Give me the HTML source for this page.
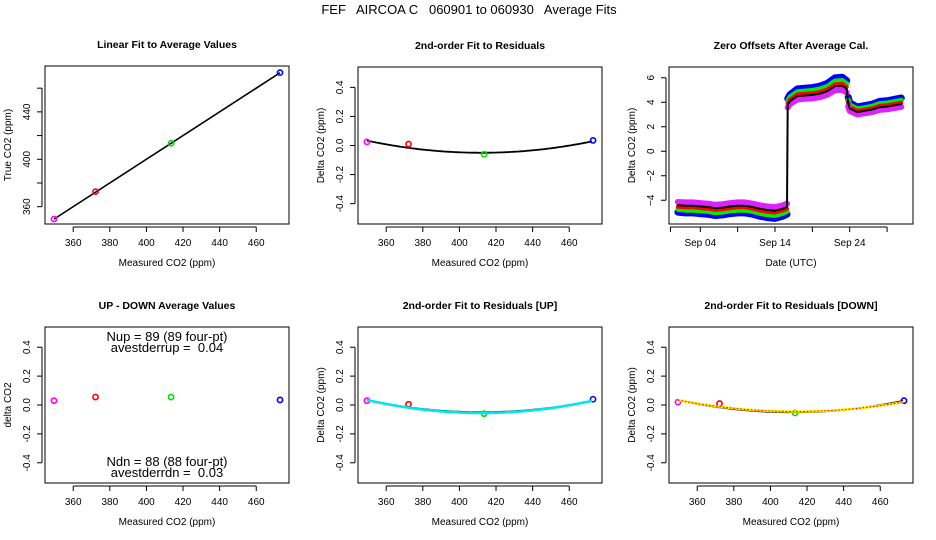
<!DOCTYPE html>
<html><head><meta charset="utf-8">
<style>
html,body{margin:0;padding:0;background:#fff;}
svg{display:block;font-family:"Liberation Sans",sans-serif;}
</style></head>
<body>
<svg id="fig" width="936" height="540" viewBox="0 0 936 540" xmlns="http://www.w3.org/2000/svg">
<rect width="936" height="540" fill="#fff"/>
<text x="469" y="14" text-anchor="middle" font-size="13" style="white-space:pre">FEF   AIRCOA C   060901 to 060930   Average Fits</text>
</svg>
<script>
// ---- data ----
const measured = [349.5, 372.2, 413.5, 473.0];
const trueVals = [349.6, 372.7, 413.5, 473.1];
const ptColors = ['#ff00ff', '#ff0000', '#00dd00', '#0000ff'];
const resid = [0.025, 0.01, -0.06, 0.035];
const residUp = [0.03, 0.005, -0.06, 0.04];
const residDn = [0.02, 0.01, -0.055, 0.03];
const updown = [0.03, 0.055, 0.055, 0.035];
const linFit = [1.0, 0.0]; // slope, intercept
const fitAll = [412, -0.05, 2.14e-5]; // vertex, min, curvature
const fitUp = [412, -0.055, 2.3e-5];
const fitDn = [414, -0.045, 1.9e-5];
const days = [1,2,3,4,5,6,7,8,9,10,11,12,13,14,15,15.6,15.7,16,17,18,19,20,21,22,23,23.6,23.8,24,25,26,27,28,29,30,30.9];
const offBlack = [-4.4,-4.45,-4.45,-4.5,-4.55,-4.65,-4.6,-4.5,-4.45,-4.45,-4.55,-4.7,-4.8,-4.85,-4.7,-4.55,3.8,4.1,4.5,4.55,4.6,4.7,4.9,5.3,5.35,5.1,3.9,3.5,3.2,3.3,3.4,3.6,3.65,3.75,3.85];
const offBlue = [-4.97,-5.03,-5.03,-5.09,-5.14,-5.25,-5.2,-5.09,-5.03,-5.03,-5.14,-5.31,-5.42,-5.48,-5.31,-5.14,4.29,4.63,5.09,5.14,5.2,5.31,5.54,5.99,6.05,5.76,4.41,3.96,3.62,3.73,3.84,4.07,4.12,4.24,4.35];
const offGreen = [-4.75,-4.81,-4.81,-4.86,-4.91,-5.02,-4.97,-4.86,-4.81,-4.81,-4.91,-5.08,-5.18,-5.24,-5.08,-4.91,4.1,4.43,4.86,4.91,4.97,5.08,5.29,5.72,5.78,5.51,4.21,3.78,3.46,3.56,3.67,3.89,3.94,4.05,4.16];
const offRed = [-4.53,-4.58,-4.58,-4.64,-4.69,-4.79,-4.74,-4.64,-4.58,-4.58,-4.69,-4.84,-4.94,-5.0,-4.84,-4.69,3.91,4.22,4.64,4.69,4.74,4.84,5.05,5.46,5.51,5.25,4.02,3.61,3.3,3.4,3.5,3.71,3.76,3.86,3.97];
const offMag = [-4.14,-4.18,-4.18,-4.23,-4.28,-4.37,-4.32,-4.23,-4.18,-4.18,-4.28,-4.42,-4.51,-4.56,-4.42,-4.28,3.57,3.85,4.23,4.28,4.32,4.42,4.61,4.98,5.03,4.79,3.67,3.29,3.01,3.1,3.2,3.38,3.43,3.53,3.62];
const co2Ticks = [360,380,400,420,440,460];
const residTicks = [-0.4,-0.2,0.0,0.2,0.4];
const residLabels = ['-0.4','-0.2','0.0','0.2','0.4'];
const trueTicks = [360,380,400,420,440,460];
const trueLabels = ['360','','400','','440',''];
const offTicks = [-4,-2,0,2,4,6];
const dateTicks = [0,4,9,14,19,24,29];
const dateLabels = ['','Sep 04','','Sep 14','','Sep 24',''];

const NS='http://www.w3.org/2000/svg';
const svg=document.getElementById('fig');
function el(tag,attrs,parent){const e=document.createElementNS(NS,tag);for(const k in attrs)e.setAttribute(k,attrs[k]);(parent||svg).appendChild(e);return e;}

function panel(name,box,xd,yd,title,xtitle,ytitle,xt,xl,yt,yl){
  const g=el('g',{});
  
  
  const sx=v=>box[0]+(v-xd[0])/(xd[1]-xd[0])*(box[2]-box[0]);
  const sy=v=>box[3]-(v-yd[0])/(yd[1]-yd[0])*(box[3]-box[1]);
  const r=el('rect',{x:box[0],y:box[1],width:box[2]-box[0],height:box[3]-box[1],fill:'none',stroke:'#000','stroke-width':1},g);
  
  
  const t=el('text',{x:(box[0]+box[2])/2,y:box[1]-18,'text-anchor':'middle','font-size':10.5,'font-weight':'bold'},g);
  t.textContent=title;
  
  
  const ax=el('g',{},g);
  
  
  const ay=el('g',{},g);
  
  
  const by=box[3]+3;
  el('line',{x1:sx(xt[0]),x2:sx(xt[xt.length-1]),y1:by,y2:by,stroke:'#000'},ax);
  xt.forEach((v,i)=>{el('line',{x1:sx(v),x2:sx(v),y1:by,y2:by+5,stroke:'#000'},ax);
    if(xl[i]){const tx=el('text',{x:sx(v),y:by+19,'text-anchor':'middle','font-size':10},ax);tx.textContent=xl[i];}});
  const xtt=el('text',{x:(box[0]+box[2])/2,y:box[3]+42,'text-anchor':'middle','font-size':10},ax);
  xtt.textContent=xtitle;
  
  
  const bx=box[0]-3;
  el('line',{x1:bx,x2:bx,y1:sy(yt[0]),y2:sy(yt[yt.length-1]),stroke:'#000'},ay);
  yt.forEach((v,i)=>{el('line',{x1:bx,x2:bx-5,y1:sy(v),y2:sy(v),stroke:'#000'},ay);
    if(yl[i]){const tx=el('text',{x:bx-12,y:sy(v),'text-anchor':'middle','font-size':10,transform:`rotate(-90 ${bx-12} ${sy(v)})`},ay);tx.textContent=yl[i];}});
  const ytx=box[0]-34;
  const ytt=el('text',{x:ytx,y:(box[1]+box[3])/2,'text-anchor':'middle','font-size':10,transform:`rotate(-90 ${ytx} ${(box[1]+box[3])/2})`},ay);
  ytt.textContent=ytitle;
  
  
  return {g,sx,sy};
}
function points(p,xs,ys,name){
  xs.forEach((x,i)=>{const c=el('circle',{cx:p.sx(x),cy:p.sy(ys[i]),r:2.6,fill:'none',stroke:ptColors[i],'stroke-width':1.6},p.g);
    
    });
}
function quadPath(p,f){
  let d='';for(let x=measured[0];x<=measured[3]+0.01;x+=1){const y=f[1]+f[2]*(x-f[0])*(x-f[0]);d+=(d?'L':'M')+p.sx(x).toFixed(1)+','+p.sy(y).toFixed(1);}
  return d;
}
const co2Labels=co2Ticks.map(String);
const xd=[344.6,477.9], rd=[-0.54,0.54];

// Panel 1
const p1=panel('linear-fit-panel',[45,66,289,224],xd,[345.4,478.7],'Linear Fit to Average Values','Measured CO2 (ppm)','True CO2 (ppm)',co2Ticks,co2Labels,trueTicks,trueLabels);
const fl=el('line',{x1:p1.sx(measured[0]),y1:p1.sy(linFit[0]*measured[0]+linFit[1]),x2:p1.sx(measured[3]),y2:p1.sy(linFit[0]*measured[3]+linFit[1]),stroke:'#000','stroke-width':1.6},p1.g);


points(p1,measured,trueVals,'average');

// Panel 2
const p2=panel('residual-fit-panel',[358,67,602,224],xd,rd,'2nd-order Fit to Residuals','Measured CO2 (ppm)','Delta CO2 (ppm)',co2Ticks,co2Labels,residTicks,residLabels);
const c2=el('path',{d:quadPath(p2,fitAll),fill:'none',stroke:'#000','stroke-width':1.8},p2.g);


points(p2,measured,resid,'residual');

// Panel 3
const p3=panel('zero-offsets-panel',[669,67,913,224],[-0.19,32.47],[-5.94,6.88],'Zero Offsets After Average Cal.','Date (UTC)','Delta CO2 (ppm)',dateTicks,dateLabels,offTicks,offTicks.map(v=>v<0?'\u2212'+(-v):String(v)));
const jump=16, drop=26;
function band(vals,color,w,name,broken){
  const segs=broken?[[0,jump],[jump,drop],[drop,days.length]]:[[0,days.length]];
  segs.forEach(s=>{let d='';for(let i=s[0];i<s[1];i++)d+=(d?'L':'M')+p3.sx(days[i]).toFixed(1)+','+p3.sy(vals[i]).toFixed(1);
    const pth=el('path',{d:d,fill:'none',stroke:color,'stroke-width':w,'stroke-linejoin':'round','stroke-linecap':'round'},p3.g);
    
    });
}
band(offBlue,'#0000ff',7,'offset-series-blue',true);
band(offGreen,'#00ee00',5,'offset-series-green',true);
band(offRed,'#ff0000',4,'offset-series-red',true);
band(offMag,'#dd22ff',6,'offset-series-magenta',true);
band(offBlack,'#000',2,'offset-series-black',false);

// Panel 4
const p4=panel('up-down-panel',[45,327,289,483],xd,rd,'UP - DOWN Average Values','Measured CO2 (ppm)','delta CO2',co2Ticks,co2Labels,residTicks,residLabels);
points(p4,measured,updown,'updown');
[['Nup = 89 (89 four-pt)',336,'nup-label'],['avestderrup =  0.04',347,'avestderrup-label'],['Ndn = 88 (88 four-pt)',461,'ndn-label'],['avestderrdn =  0.03',472,'avestderrdn-label']].forEach(a=>{
  const t=el('text',{x:167,y:a[1]+5,'text-anchor':'middle','font-size':13,style:'white-space:pre'},p4.g);t.textContent=a[0];
  
  });

// Panel 5
const p5=panel('residual-up-panel',[358,327,602,483],xd,rd,'2nd-order Fit to Residuals [UP]','Measured CO2 (ppm)','Delta CO2 (ppm)',co2Ticks,co2Labels,residTicks,residLabels);
const b5=el('path',{d:quadPath(p5,fitAll),fill:'none',stroke:'#000','stroke-width':1.8},p5.g);


points(p5,measured,residUp,'residual-up');
const u5=el('path',{d:quadPath(p5,fitUp),fill:'none',stroke:'#00e5ee','stroke-width':2.6},p5.g);



// Panel 6
const p6=panel('residual-down-panel',[669,327,913,483],xd,rd,'2nd-order Fit to Residuals [DOWN]','Measured CO2 (ppm)','Delta CO2 (ppm)',co2Ticks,co2Labels,residTicks,residLabels);
const b6=el('path',{d:quadPath(p6,fitAll),fill:'none',stroke:'#000','stroke-width':1.8},p6.g);


points(p6,measured,residDn,'residual-down');
const y6=el('path',{d:quadPath(p6,fitDn),fill:'none',stroke:'#ffee00','stroke-width':2.4},p6.g);


const r6=el('path',{d:quadPath(p6,fitDn),fill:'none',stroke:'#ff0000','stroke-width':1,'stroke-dasharray':'1.5 2'},p6.g);


</script>
</body></html>
